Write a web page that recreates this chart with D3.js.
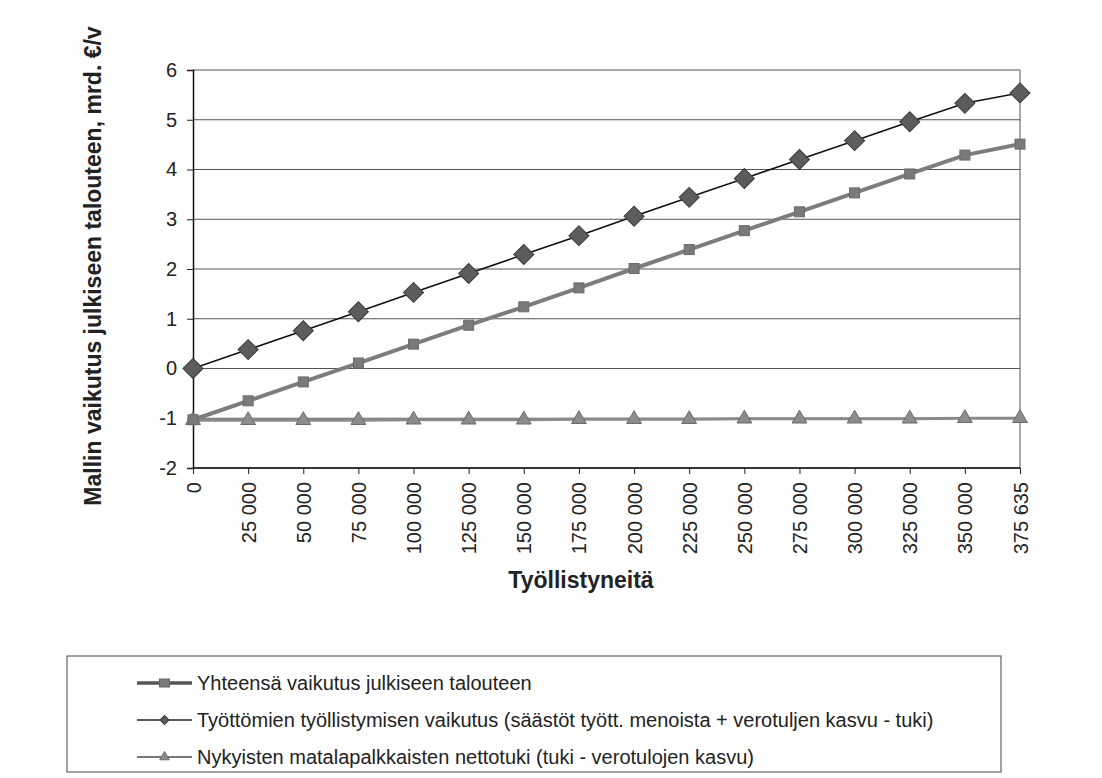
<!DOCTYPE html>
<html><head><meta charset="utf-8">
<script src="https://cdn.jsdelivr.net/npm/d3@7"></script>
<style>body{margin:0;background:#fff}svg{display:block}text{font-family:"Liberation Sans",Arial,sans-serif}</style>
</head><body>
<svg id="c" width="1102" height="778"></svg>
<script>
const categories = ["0","25 000","50 000","75 000","100 000","125 000","150 000","175 000","200 000","225 000","250 000","275 000","300 000","325 000","350 000","375 635"];
const yhteensa = [-1.03,-0.65,-0.27,0.11,0.49,0.87,1.24,1.62,2.01,2.39,2.77,3.15,3.53,3.91,4.29,4.51];
const tyottomien = [0,0.38,0.76,1.14,1.53,1.91,2.29,2.67,3.06,3.44,3.82,4.20,4.58,4.96,5.33,5.54];
const nykyisten = [-1.04,-1.04,-1.04,-1.04,-1.03,-1.03,-1.03,-1.02,-1.02,-1.02,-1.01,-1.01,-1.01,-1.01,-1.0,-1.0];
const yTicks = [-2,-1,0,1,2,3,4,5,6];
const seriesNames = ["Yhteensä vaikutus julkiseen talouteen",
  "Työttömien työllistymisen vaikutus (säästöt tyött. menoista + verotuljen kasvu - tuki)",
  "Nykyisten matalapalkkaisten nettotuki (tuki - verotulojen kasvu)"];
const yTitle = "Mallin vaikutus julkiseen talouteen, mrd. €/v";
const xTitle = "Työllistyneitä";

const svg = d3.select("#c");
const L=193, R=1020, T=70, B=468;
const x = d3.scalePoint().domain(categories).range([L,R]);
const y = d3.scaleLinear().domain([-2,6]).range([B,T]);

// gridlines
svg.append("g").selectAll("line").data(yTicks).join("line")
  .attr("x1",L).attr("x2",R).attr("y1",d=>y(d)).attr("y2",d=>y(d))
  .attr("stroke","#555").attr("stroke-width",1);
// right border
svg.append("line").attr("x1",R).attr("x2",R).attr("y1",T).attr("y2",B).attr("stroke","#555").attr("stroke-width",1);

// y axis
const ya = svg.append("g").attr("transform",`translate(${L},0)`)
  .call(d3.axisLeft(y).tickValues(yTicks).tickSize(6).tickPadding(10).tickFormat(d3.format("d")));
ya.select(".domain").attr("stroke","#111").attr("stroke-width",1.5);
ya.selectAll(".tick line").attr("stroke","#222");
ya.selectAll("text").attr("font-size",20).attr("fill","#222").attr("font-family","Liberation Sans, Arial, sans-serif");
ya.selectAll(".tick text").text(d=>d<0?"-"+Math.abs(d):d);

// x axis
const xa = svg.append("g").attr("transform",`translate(0,${B})`)
  .call(d3.axisBottom(x).tickSize(6).tickPadding(8));
xa.select(".domain").attr("stroke","#111").attr("stroke-width",1.5).attr("d",`M${L},0H${R}`);
xa.selectAll(".tick line").attr("stroke","#222");
xa.selectAll("text").attr("font-size",20).attr("fill","#222").attr("font-family","Liberation Sans, Arial, sans-serif")
  .attr("transform","rotate(-90)").attr("text-anchor","end").attr("dy","0.35em").attr("x",-14).attr("y",0);

// titles
svg.append("text").attr("transform",`translate(101,${(27+505)/2}) rotate(-90)`)
  .attr("text-anchor","middle").attr("font-weight","bold").attr("font-size",23).attr("fill","#222").text(yTitle);
svg.append("text").attr("x",581).attr("y",588).attr("text-anchor","middle")
  .attr("font-weight","bold").attr("font-size",23).attr("fill","#222").text(xTitle);

const line = d3.line().x((d,i)=>x(categories[i])).y(d=>y(d));

// triangle series
svg.append("path").datum(nykyisten).attr("d",line).attr("fill","none").attr("stroke","#8a8a8a").attr("stroke-width",3);
const tri = d3.symbol().type(d3.symbolTriangle).size(95);
svg.append("g").selectAll("path").data(nykyisten).join("path")
  .attr("d",tri).attr("transform",(d,i)=>`translate(${x(categories[i])},${y(d)})`)
  .attr("fill","#8c8c8c").attr("stroke","#6a6a6a").attr("stroke-width",1);

// total series (squares)
svg.append("path").datum(yhteensa).attr("d",line).attr("fill","none").attr("stroke","#7d7d7d").attr("stroke-width",4);
svg.append("g").selectAll("rect").data(yhteensa).join("rect")
  .attr("x",(d,i)=>x(categories[i])-5).attr("y",d=>y(d)-5).attr("width",10).attr("height",10)
  .attr("fill","#7a7a7a").attr("stroke","#6a6a6a");

// diamond series
svg.append("path").datum(tyottomien).attr("d",line).attr("fill","none").attr("stroke","#111").attr("stroke-width",1.6);
const dia = d3.symbol().type(d3.symbolSquare).size(200);
svg.append("g").selectAll("path").data(tyottomien).join("path")
  .attr("d",dia).attr("transform",(d,i)=>`translate(${x(categories[i])},${y(d)}) rotate(45)`)
  .attr("fill","#5c5c5c").attr("stroke","#3a3a3a").attr("stroke-width",1);

// legend
const lg = svg.append("g");
lg.append("rect").attr("x",67).attr("y",656).attr("width",934).attr("height",116)
  .attr("fill","#fff").attr("stroke","#444").attr("stroke-width",1);
const rows = [683,720,757];
const lx1=137, lx2=192, lc=(lx1+lx2)/2;
// row 1
lg.append("line").attr("x1",lx1).attr("x2",lx2).attr("y1",rows[0]).attr("y2",rows[0]).attr("stroke","#555").attr("stroke-width",3.5);
lg.append("rect").attr("x",lc-5).attr("y",rows[0]-4).attr("width",10).attr("height",8).attr("fill","#7a7a7a").attr("stroke","#666");
// row 2
lg.append("line").attr("x1",lx1).attr("x2",lx2).attr("y1",rows[1]).attr("y2",rows[1]).attr("stroke","#222").attr("stroke-width",1.5);
lg.append("path").attr("d",d3.symbol().type(d3.symbolSquare).size(40)).attr("transform",`translate(${lc},${rows[1]}) rotate(45)`).attr("fill","#5c5c5c").attr("stroke","#3a3a3a");
// row 3
lg.append("line").attr("x1",lx1).attr("x2",lx2).attr("y1",rows[2]).attr("y2",rows[2]).attr("stroke","#777").attr("stroke-width",2);
lg.append("path").attr("d",d3.symbol().type(d3.symbolTriangle).size(40)).attr("transform",`translate(${lc},${rows[2]})`).attr("fill","#8c8c8c").attr("stroke","#6a6a6a");
lg.selectAll("text.lt").data(seriesNames).join("text").attr("class","lt")
  .attr("x",197).attr("y",(d,i)=>rows[i]).attr("dy","0.35em").attr("font-size",20).attr("fill","#222").text(d=>d);
</script>
</body></html>
